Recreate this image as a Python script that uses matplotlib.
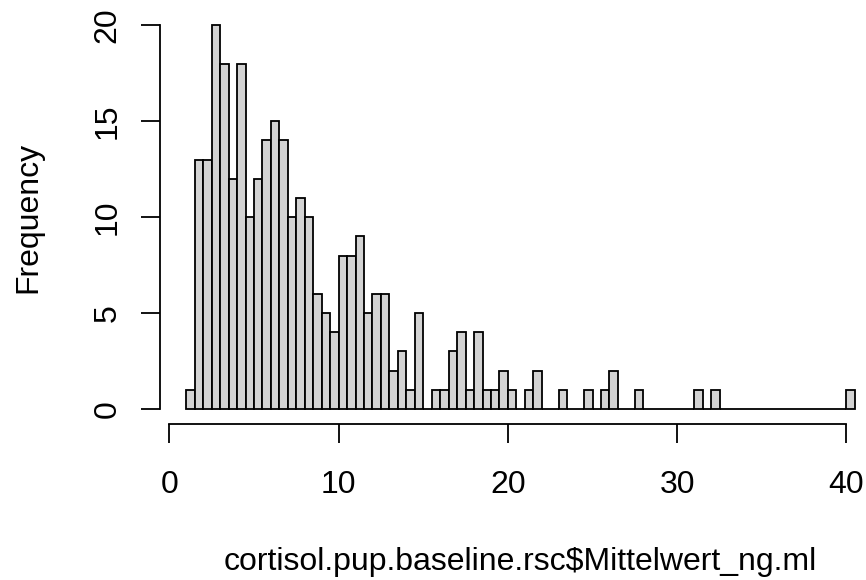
import numpy as np
import matplotlib
matplotlib.use("Agg")
import matplotlib.pyplot as plt

plt.rcParams['font.family'] = ['Liberation Sans', 'DejaVu Sans']

# histogram of cortisol.pup.baseline.rsc$Mittelwert_ng.ml, bins of 0.5 from 1.0 to 40.5
binStart = 1.0
binWidth = 0.5
counts = [1, 13, 13, 20, 18, 12, 18, 10, 12, 14,
          15, 14, 10, 11, 10, 6, 5, 4, 8, 8,
          9, 5, 6, 6, 2, 3, 1, 5, 0, 1,
          1, 3, 4, 1, 4, 1, 1, 2, 1, 0,
          1, 2, 0, 0, 1, 0, 0, 1, 0, 1,
          2, 0, 0, 1, 0, 0, 0, 0, 0, 0,
          1, 0, 1, 0, 0, 0, 0, 0, 0, 0,
          0, 0, 0, 0, 0, 0, 0, 0, 1]
xTicks = [0, 10, 20, 30, 40]
yTicks = [0, 5, 10, 15, 20]
xLabel = "cortisol.pup.baseline.rsc$Mittelwert_ng.ml"
yLabel = "Frequency"

W, H = 866, 580
fig = plt.figure(figsize=(W / 100, H / 100), dpi=100)

# plot region in pixels (R style: range of data extended by 4%)
left, right, top, bottom = 159.5, 881.7, 10.0, 424.3
ax = fig.add_axes([left / W, 1 - bottom / H, (right - left) / W, (bottom - top) / H])

edges = binStart + binWidth * np.arange(len(counts))
ax.bar(edges, counts, width=binWidth, align='edge', color='#D3D3D3',
       edgecolor='black', linewidth=1.3)

lo = edges[0]
hi = edges[-1] + binWidth
ext = 0.04 * (hi - lo)
ax.set_xlim(lo - ext, hi + ext)
ax.set_ylim(-0.04 * max(counts), max(counts) * 1.04)

for side in ['top', 'right']:
    ax.spines[side].set_visible(False)
ax.spines['left'].set_bounds(yTicks[0], yTicks[-1])
ax.spines['bottom'].set_bounds(xTicks[0], xTicks[-1])
ax.spines['left'].set_linewidth(1.3)
ax.spines['bottom'].set_linewidth(1.3)

ax.set_xticks(xTicks)
ax.set_yticks(yTicks)
ax.set_yticklabels([str(v) for v in yTicks], rotation=90, va='center')
ax.tick_params(axis='both', length=13.7, width=1.3, labelsize=23)
ax.tick_params(axis='x', pad=19)
ax.tick_params(axis='y', pad=13)

fig.text(((left + right) / 2) / W, 1 - 570 / H, xLabel, ha='center',
         va='baseline', fontsize=23)
fig.text(13 / W, 1 - 217 / H, yLabel, ha='left', va='center', rotation=90,
         fontsize=23)

fig.savefig("out.png", dpi=100)
